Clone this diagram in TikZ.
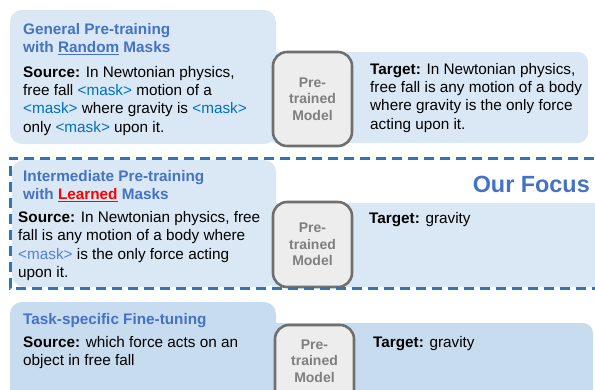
\documentclass[tikz,border=0pt]{standalone}
\usepackage{fontspec}
\setmainfont{Liberation Sans}
\usepackage{calc}
\definecolor{lightA}{HTML}{DAE8F5}
\definecolor{lightC}{HTML}{C8DCF0}
\definecolor{titleblue}{HTML}{4472C4}
\definecolor{maskA}{HTML}{0070C0}
\definecolor{maskB}{HTML}{5580D0}
\definecolor{dashblue}{HTML}{2E75B6}
\definecolor{modelfill}{HTML}{EDEDED}
\definecolor{modeldraw}{HTML}{6F6F6F}
\definecolor{modeltext}{HTML}{7F7F7F}
\newlength\ulw
\newcommand\myul[1]{\settowidth\ulw{#1}\rlap{#1}\rule[-2.8pt]{\ulw}{1.2pt}}
\tikzset{
  panelbox/.style={rounded corners=12pt, draw=none},
  modelbox/.style={draw=modeldraw, line width=2.6pt, fill=modelfill, rounded corners=14pt},
  modeltxt/.style={font=\fontsize{14}{16.5}\selectfont\bfseries, text=modeltext, align=center, inner sep=0},
  bodytxt/.style={font=\fontsize{15.3}{18.4}\selectfont, align=left, inner sep=0, anchor=base west},
  titletxt/.style={font=\fontsize{15.3}{18.4}\selectfont\bfseries, text=titleblue, align=left, inner sep=0, anchor=base west},
}
\begin{document}
\begin{tikzpicture}[x=1pt,y=-1pt]
\useasboundingbox (0,0) rectangle (595,389);
\begin{scope}
\clip (0,0) rectangle (595,389);
% ---------- Panel 1 ----------
\fill[lightA, panelbox] (10,10) rectangle (276,144);
\fill[lightA, rounded corners=10pt] (266,52) rectangle (588,143);
\draw[modelbox] (273,52) rectangle (352,146);
\node[modeltxt] (m1) at (312.5,99) {Pre-\\trained\\Model};
\node[titletxt] (t1) at (23,52.5) {General Pre-training\\with \myul{Random} Masks};
\node[bodytxt] (s1) at (23,132.2) {\textbf{Source:} In Newtonian physics,\\free fall \textcolor{maskA}{<mask>} motion of a\\\textcolor{maskA}{<mask>} where gravity is \textcolor{maskA}{<mask>}\\only \textcolor{maskA}{<mask>} upon it.};
\node[bodytxt] (g1) at (370,129.2) {\textbf{Target:} In Newtonian physics,\\free fall is any motion of a body\\where gravity is the only force\\acting upon it.};
% ---------- Panel 2 ----------
\fill[lightA, panelbox] (12,160) rectangle (276,287);
\fill[lightA, rounded corners=10pt] (266,203) rectangle (610,287);
\draw[modelbox] (273,202) rectangle (352,287);
\node[modeltxt] (m2) at (312.5,244.5) {Pre-\\trained\\Model};
\node[titletxt] (t2) at (23,199.5) {Intermediate Pre-training\\with \textcolor{red}{\myul{Learned}} Masks};
\node[bodytxt] (s2) at (18,277.7) {\textbf{Source:} In Newtonian physics, free\\fall is any motion of a body where\\\textcolor{maskB}{<mask>} is the only force acting\\upon it.};
\node[bodytxt] (g2) at (369,223) {\textbf{Target:} gravity};
\node[font=\fontsize{23.4}{26}\selectfont\bfseries, text=titleblue, inner sep=0, anchor=base east] (focus) at (590,192) {Our Focus};
\draw[dashblue, line width=3pt, dash pattern=on 10pt off 6pt] (610,158) -- (10,158) -- (10,288) -- (610,288);
% ---------- Panel 3 ----------
\fill[lightC, panelbox] (10,302) rectangle (276,410);
\fill[lightC, rounded corners=10pt] (266,323) rectangle (593,410);
\draw[modelbox] (275,325) rectangle (354,410);
\node[modeltxt] (m3) at (314.5,361) {Pre-\\trained\\Model};
\node[titletxt] (t3) at (23,324.5) {Task-specific Fine-tuning};
\node[bodytxt] (s3) at (23,365.9) {\textbf{Source:} which force acts on an\\object in free fall};
\node[bodytxt] (g3) at (373,347.5) {\textbf{Target:} gravity};
\end{scope}
\end{tikzpicture}
\end{document}
